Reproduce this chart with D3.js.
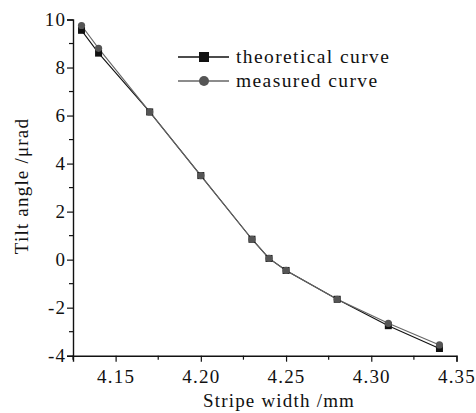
<!DOCTYPE html>
<html>
<head>
<meta charset="utf-8">
<script src="https://cdn.jsdelivr.net/npm/d3@7"></script>
<style>
  body { margin: 0; background: #fff; }
</style>
</head>
<body>
<div id="chart"></div>
<script>
// chart data
var stripeWidth = [4.13, 4.14, 4.17, 4.20, 4.23, 4.24, 4.25, 4.28, 4.31, 4.34];
var theoretical = [9.55, 8.6, 6.15, 3.5, 0.85, 0.05, -0.45, -1.65, -2.75, -3.7];
var measured = [9.75, 8.8, 6.15, 3.5, 0.85, 0.05, -0.45, -1.65, -2.65, -3.55];
var xTicks = [4.15, 4.20, 4.25, 4.30, 4.35];
var yTicks = [-4, -2, 0, 2, 4, 6, 8, 10];
var seriesNames = ["theoretical curve", "measured curve"];

var serif = "'Liberation Serif', 'Times New Roman', serif";

var svgWidth = 476;
var svgHeight = 413;
var margin = { top: 19.5, right: 19.5, bottom: 57.3, left: 73 };
var chartWidth = svgWidth - margin.left - margin.right;
var chartHeight = svgHeight - margin.top - margin.bottom;

var svg = d3.select("#chart")
  .append("svg")
  .attr("width", svgWidth)
  .attr("height", svgHeight);

var chartGroup = svg.append("g")
  .attr("transform", `translate(${margin.left}, ${margin.top})`);

var xScale = d3.scaleLinear().domain([4.125, 4.35]).range([0, chartWidth]);
var yScale = d3.scaleLinear().domain([-4, 10]).range([chartHeight, 0]);

// minor ticks
var xMinor = d3.range(4.125, 4.351, 0.025).filter(v => !xTicks.some(t => Math.abs(t - v) < 1e-6));
var yMinor = d3.range(-3, 10, 2);

var bottomAxis = d3.axisBottom(xScale).tickValues(xTicks).tickFormat(d3.format(".2f")).tickSize(6).tickPadding(8);
var leftAxis = d3.axisLeft(yScale).tickValues(yTicks).tickFormat(d => d < 0 ? "-" + Math.abs(d) : d).tickSize(6).tickPadding(2);

var xAxisG = chartGroup.append("g")
  .attr("transform", `translate(0, ${chartHeight})`)
  .call(bottomAxis);
xAxisG.append("g").selectAll("line").data(xMinor).enter().append("line")
  .attr("x1", d => xScale(d)).attr("x2", d => xScale(d))
  .attr("y1", 0).attr("y2", 4).attr("stroke", "#111").attr("stroke-width", 1.2);

var yAxisG = chartGroup.append("g").call(leftAxis);
yAxisG.append("g").selectAll("line").data(yMinor).enter().append("line")
  .attr("y1", d => yScale(d)).attr("y2", d => yScale(d))
  .attr("x1", 0).attr("x2", -4).attr("stroke", "#111").attr("stroke-width", 1.2);

[xAxisG, yAxisG].forEach(function(g) {
  g.attr("font-family", null).attr("font-size", null);
  g.select(".domain").attr("stroke", "#111").attr("stroke-width", 1.4);
  g.selectAll(".tick line").attr("stroke", "#111").attr("stroke-width", 1.2);
  g.selectAll("text")
    .style("font-family", serif)
    .style("font-size", "19px")
    .style("letter-spacing", "1.2px")
    .attr("fill", "#111");
});
yAxisG.selectAll(".tick text").attr("dx", "0.06em");

// axis titles
svg.append("text")
  .attr("transform", "rotate(-90)")
  .attr("x", -186)
  .attr("y", 28)
  .style("text-anchor", "middle")
  .style("font-family", serif)
  .style("font-size", "19px")
  .style("letter-spacing", "1.2px")
  .attr("fill", "#111")
  .text("Tilt angle /μrad");

svg.append("text")
  .attr("x", 279)
  .attr("y", 407)
  .style("text-anchor", "middle")
  .style("font-family", serif)
  .style("font-size", "19px")
  .style("letter-spacing", "1.2px")
  .attr("fill", "#111")
  .text("Stripe width /mm");

// lines
var lineOf = function(vals) {
  return d3.line()
    .x((d, i) => xScale(stripeWidth[i]))
    .y(d => yScale(d))(vals);
};

chartGroup.append("path")
  .attr("d", lineOf(theoretical))
  .attr("fill", "none").attr("stroke", "#111").attr("stroke-width", 1.1);

chartGroup.append("path")
  .attr("d", lineOf(measured))
  .attr("fill", "none").attr("stroke", "#666").attr("stroke-width", 1.1);

chartGroup.selectAll(".sq").data(theoretical).enter().append("rect")
  .attr("x", (d, i) => xScale(stripeWidth[i]) - 3.5)
  .attr("y", d => yScale(d) - 3.5)
  .attr("width", 7).attr("height", 7)
  .attr("fill", "#111");

chartGroup.selectAll(".ci").data(measured).enter().append("circle")
  .attr("cx", (d, i) => xScale(stripeWidth[i]))
  .attr("cy", d => yScale(d))
  .attr("r", 3.6)
  .attr("fill", "#555");

// legend
var legend = svg.append("g").attr("transform", "translate(178, 57)");
legend.append("line").attr("x1", 0).attr("x2", 51).attr("y1", 0).attr("y2", 0)
  .attr("stroke", "#111").attr("stroke-width", 1.5);
legend.append("rect").attr("x", 21).attr("y", -5).attr("width", 10).attr("height", 10).attr("fill", "#111");
legend.append("line").attr("x1", 0).attr("x2", 51).attr("y1", 24).attr("y2", 24)
  .attr("stroke", "#666").attr("stroke-width", 1.5);
legend.append("circle").attr("cx", 26).attr("cy", 24).attr("r", 5).attr("fill", "#555");

legend.selectAll(".lbl").data(seriesNames).enter().append("text")
  .attr("x", 58)
  .attr("y", (d, i) => 6 + i * 24)
  .style("font-family", serif)
  .style("font-size", "19.5px")
  .style("letter-spacing", "1.4px")
  .attr("fill", "#111")
  .text(d => d);
</script>
</body>
</html>
